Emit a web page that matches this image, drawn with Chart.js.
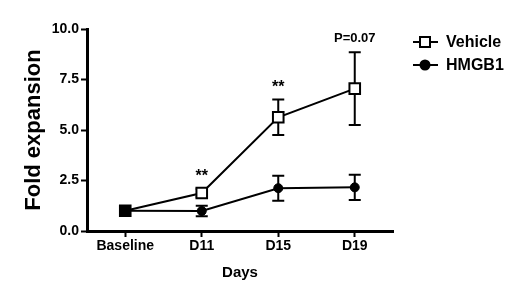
<!DOCTYPE html>
<html>
<head>
<meta charset="utf-8">
<script src="https://cdn.jsdelivr.net/npm/chart.js@4"></script>
<style>
  html, body { margin: 0; padding: 0; background: #fff; }
  #wrap { width: 520px; height: 296px; position: relative; }
</style>
</head>
<body>
<div id="wrap"><canvas id="foldChart"></canvas></div>
<script>
const days = ["Baseline", "D11", "D15", "D19"];
const vehicle = [1.0, 1.88, 5.63, 7.05];
const vehicleErr = [0.0, 0.2, 0.88, 1.8];
const hmgb1 = [1.0, 0.99, 2.12, 2.16];
const hmgb1Err = [0.0, 0.26, 0.62, 0.62];
const marks = ["", "**", "**", "P=0.07"];
const yTicks = [0, 2.5, 5.0, 7.5, 10.0];

const FONT = "'Liberation Sans', Arial, sans-serif";

// error bars drawn under the markers
const errorBars = {
  id: "errorBars",
  beforeDatasetsDraw(chart) {
    const ctx = chart.ctx;
    const x = chart.scales.x, y = chart.scales.y;
    const sets = [[vehicle, vehicleErr], [hmgb1, hmgb1Err]];
    ctx.save();
    ctx.strokeStyle = "#000";
    ctx.lineWidth = 2;
    sets.forEach(([vals, errs]) => {
      vals.forEach((v, i) => {
        if (!errs[i]) return;
        const px = x.getPixelForValue(i);
        const top = y.getPixelForValue(v + errs[i]);
        const bot = y.getPixelForValue(v - errs[i]);
        ctx.beginPath();
        ctx.moveTo(px, top); ctx.lineTo(px, bot);
        ctx.moveTo(px - 6, top); ctx.lineTo(px + 6, top);
        ctx.moveTo(px - 6, bot); ctx.lineTo(px + 6, bot);
        ctx.stroke();
      });
    });
    ctx.restore();
  },
  afterDatasetsDraw(chart) {
    const ctx = chart.ctx;
    const x = chart.scales.x, y = chart.scales.y;
    ctx.save();
    ctx.fillStyle = "#000";
    ctx.textAlign = "center";
    ctx.textBaseline = "bottom";
    marks.forEach((m, i) => {
      if (!m) return;
      const px = x.getPixelForValue(i);
      const top = y.getPixelForValue(vehicle[i] + vehicleErr[i]);
      ctx.font = (m === "**" ? "bold 16px " : "bold 13px ") + FONT;
      ctx.fillText(m, px, top - (m === "**" ? 4 : 7));
    });
    // legend
    const items = [
      { label: "Vehicle", style: "rect", fill: "#fff", r: 5 },
      { label: "HMGB1", style: "circle", fill: "#000", r: 4.5 }
    ];
    items.forEach((it, k) => {
      const cy = 42 + k * 23;
      ctx.strokeStyle = "#000";
      ctx.lineWidth = 2;
      ctx.beginPath();
      ctx.moveTo(413, cy); ctx.lineTo(438, cy);
      ctx.stroke();
      ctx.fillStyle = it.fill;
      ctx.beginPath();
      if (it.style === "rect") ctx.rect(425 - it.r, cy - it.r, it.r * 2, it.r * 2);
      else ctx.arc(425, cy, it.r, 0, Math.PI * 2);
      ctx.fill(); ctx.stroke();
      ctx.fillStyle = "#000";
      ctx.font = "bold 16px " + FONT;
      ctx.textAlign = "left";
      ctx.textBaseline = "middle";
      ctx.fillText(it.label, 446, cy + 1);
    });
    ctx.restore();
  }
};

new Chart(document.getElementById("foldChart"), {
  type: "line",
  data: {
    labels: days,
    datasets: [
      {
        label: "Vehicle",
        data: vehicle,
        borderColor: "#000",
        borderWidth: 2,
        pointStyle: "rect",
        pointRadius: 7.5,
        pointBorderWidth: 2,
        pointBorderColor: "#000",
        pointBackgroundColor: ["#000", "#fff", "#fff", "#fff"],
        tension: 0
      },
      {
        label: "HMGB1",
        data: hmgb1,
        borderColor: "#000",
        borderWidth: 2,
        pointStyle: "circle",
        pointRadius: 4.5,
        pointBorderWidth: 1,
        pointBorderColor: "#000",
        pointBackgroundColor: "#000",
        tension: 0
      }
    ]
  },
  options: {
    responsive: true,
    maintainAspectRatio: false,
    animation: false,
    layout: { padding: { left: 17, right: 127, top: 29, bottom: 10 } },
    plugins: { legend: { display: false }, tooltip: { enabled: false } },
    scales: {
      x: {
        offset: true,
        grid: { display: true, drawOnChartArea: false, tickLength: 6, tickWidth: 2, tickColor: "#000", offset: false },
        border: { display: true, width: 3, color: "#000" },
        ticks: { color: "#000", font: { family: FONT, size: 14, weight: "bold" }, padding: 1 },
        title: { display: true, text: "Days", color: "#000", font: { family: FONT, size: 15, weight: "bold" }, padding: { top: 4 } },
        afterFit(s) { s.height = 55; }
      },
      y: {
        min: 0,
        max: 10,
        afterBuildTicks(s) { s.ticks = yTicks.map(v => ({ value: v })); },
        grid: { display: true, drawOnChartArea: false, tickLength: 6, tickWidth: 2, tickColor: "#000" },
        border: { display: true, width: 3, color: "#000" },
        ticks: { color: "#000", font: { family: FONT, size: 14, weight: "bold" }, padding: 2, callback: v => v.toFixed(1) },
        title: { display: true, text: "Fold expansion", color: "#000", font: { family: FONT, size: 22, weight: "bold" }, padding: { bottom: 4 } },
        afterFit(s) { s.width = 70; }
      }
    }
  },
  plugins: [errorBars]
});
</script>
</body>
</html>
